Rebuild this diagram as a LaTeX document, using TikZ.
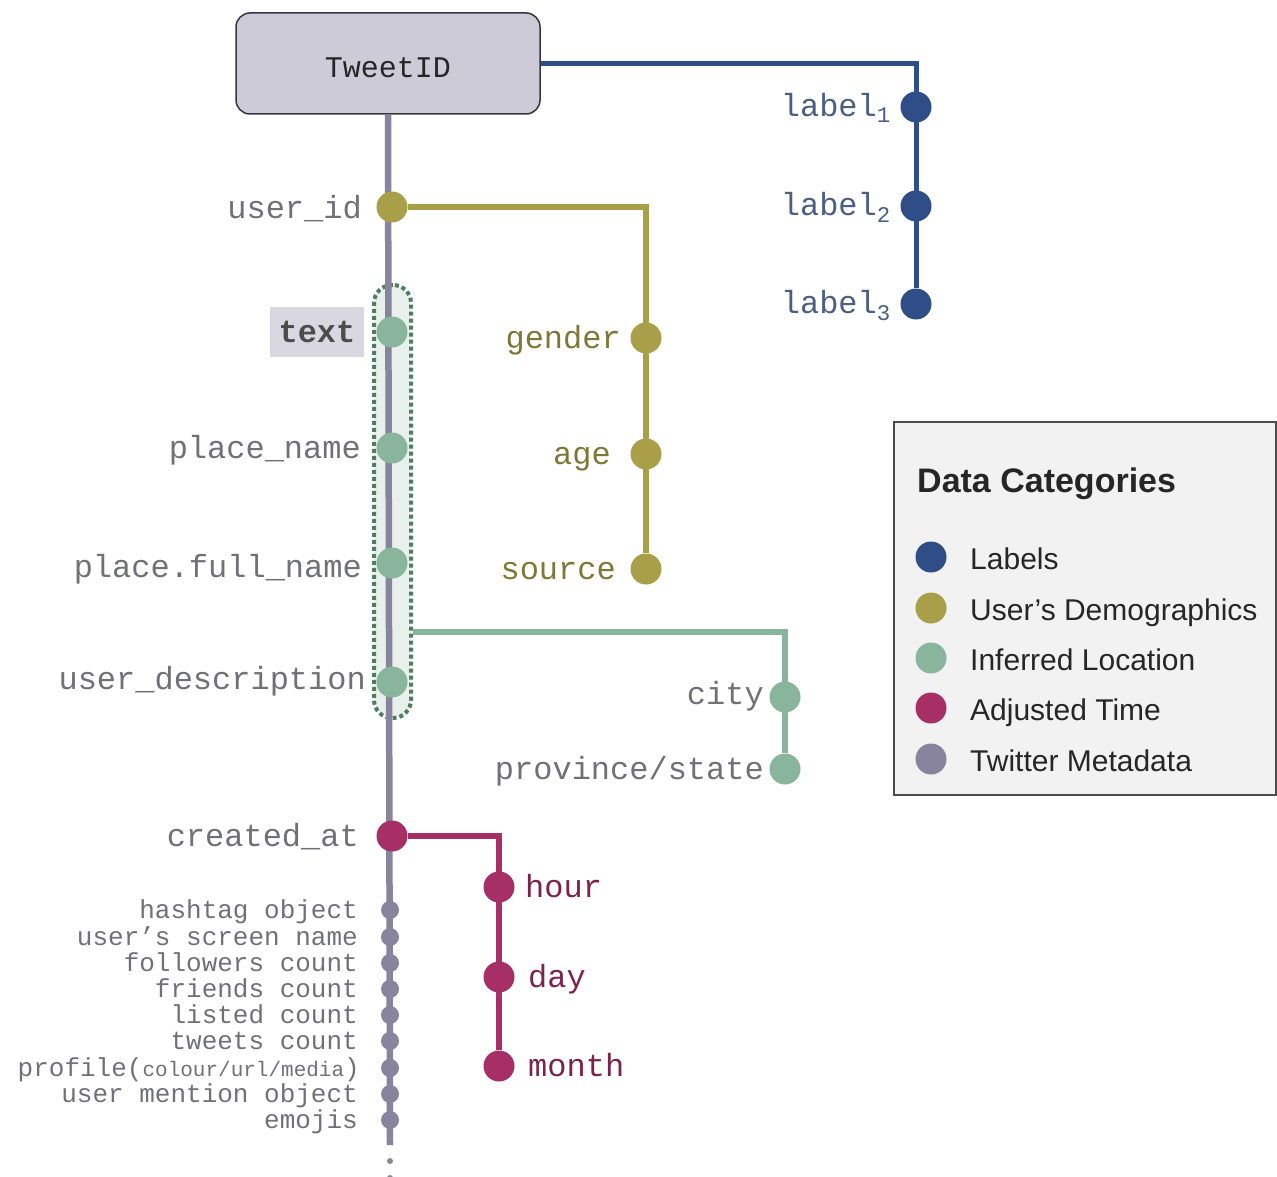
\documentclass[tikz,border=0pt]{standalone}
\usepackage{fontspec}
\setmainfont{Liberation Sans}
\newfontfamily\monofont{Liberation Mono}
\usetikzlibrary{positioning}

\definecolor{lblblue}{HTML}{2F4D87}
\definecolor{demolive}{HTML}{A89F48}
\definecolor{locgreen}{HTML}{88B59B}
\definecolor{locdark}{HTML}{4E7D60}
\definecolor{timered}{HTML}{A62F66}
\definecolor{metagray}{HTML}{88849E}
\definecolor{boxfill}{HTML}{CDCBD8}
\definecolor{fieldgray}{HTML}{707078}

\begin{document}
\begin{tikzpicture}[x=1pt, y=-1pt,
  field/.style={font=\monofont\fontsize{32}{32}\selectfont, text=fieldgray, inner sep=0pt},
  small/.style={font=\monofont\fontsize{26}{26}\selectfont, text=fieldgray, inner sep=0pt, anchor=mid east},
  dot/.style={circle, fill=#1, minimum size=31pt, inner sep=0pt},
  metadot/.style={circle, fill=metagray, minimum size=18pt, inner sep=0pt},
  branch/.style={line width=6.5pt, #1},
  keyentry/.style={font=\fontsize{30}{30}\selectfont, text=black!85, anchor=base west, inner sep=0pt}]
\useasboundingbox (0,0) rectangle (1277,1177);

% legend
\node (legend) [draw=black!70, line width=2pt, fill=black!5, minimum width=382pt,
  minimum height=373pt, inner sep=0pt] at (1085,608.5) {};
\node (keytitle) [anchor=base west, inner sep=0pt, font=\bfseries\fontsize{34}{34}\selectfont,
  text=black!85] at (917,492) {Data Categories};
\node (k1) [dot=lblblue] at (931,557) {};
\node (k2) [dot=demolive] at (931,608) {};
\node (k3) [dot=locgreen] at (931,658) {};
\node (k4) [dot=timered] at (931,708) {};
\node (k5) [dot=metagray] at (931,759) {};
\node (k1t) [keyentry] at (970,569) {Labels};
\node (k2t) [keyentry] at (970,620) {User’s Demographics};
\node (k3t) [keyentry] at (970,670) {Inferred Location};
\node (k4t) [keyentry] at (970,720) {Adjusted Time};
\node (k5t) [keyentry] at (970,771) {Twitter Metadata};

% location group
\node (locbox) [draw=locdark, fill=locgreen!20, line width=4pt, dash pattern=on 4pt off 3pt,
  rounded corners=18pt, minimum width=37pt, minimum height=433pt] at (392.5,501.5) {};
\coordinate (locjoin) at (413,632);

% the tweet
\node (tweet) [draw=black!60!metagray, line width=1.5pt, fill=boxfill, rounded corners=14pt,
  minimum width=304pt, minimum height=101pt, text height=28pt, text depth=0pt,
  font=\monofont\fontsize{30}{30}\selectfont, text=black!85] at (388,63.5) {TweetID};
\coordinate (spineend) at (390,1145);
\draw[branch=metagray] (tweet.south) -- (spineend);
\fill[metagray] (390,1161) circle (3pt);
\fill[metagray] (390,1178) circle (3pt);

% labels
\node (lab1) [dot=lblblue] at (916,107) {};
\node (lab2) [dot=lblblue] at (916,206) {};
\node (lab3) [dot=lblblue] at (916,304) {};
\draw[line width=5pt, lblblue] (tweet.east) -| (lab3);
\node (lab1t) [field, anchor=mid east, text=lblblue!65!gray] at (891,114) {label\textsubscript{1}};
\node (lab2t) [field, anchor=mid east, text=lblblue!65!gray] at (891,213) {label\textsubscript{2}};
\node (lab3t) [field, anchor=mid east, text=lblblue!65!gray] at (891,311) {label\textsubscript{3}};

% demographics
\node (uid) [dot=demolive] at (392,207) {};
\node (gender) [dot=demolive] at (646,338) {};
\node (age) [dot=demolive] at (646,454) {};
\node (source) [dot=demolive] at (646,569) {};
\draw[branch=demolive] (uid) -| (source);
\node (uidt) [field, anchor=mid east] at (362,216) {user\_id};
\node (gendert) [field, anchor=mid east, text=demolive!75!black] at (621,346) {gender};
\node (aget) [field, anchor=mid east, text=demolive!75!black] at (611,462) {age};
\node (sourcet) [field, anchor=mid east, text=demolive!75!black] at (616,577) {source};

% inferred location
\node (txt) [dot=locgreen] at (392,332) {};
\node (pname) [dot=locgreen] at (392,448) {};
\node (pfull) [dot=locgreen] at (392,563) {};
\node (udesc) [dot=locgreen] at (392,682) {};
\node (city) [dot=locgreen] at (785,697) {};
\node (prov) [dot=locgreen] at (785,769) {};
\draw[branch=locgreen] (locjoin) -| (prov);
\node (txtt) [fill=black!4!boxfill!65, minimum width=94pt, minimum height=50pt, inner sep=0pt,
  font=\monofont\bfseries\fontsize{32}{32}\selectfont, text=black!70] at (317,332) {text};
\node (pnamet) [field, anchor=mid east] at (361,456) {place\_name};
\node (pfullt) [field, anchor=mid east] at (362,575) {place.full\_name};
\node (udesct) [field, anchor=mid east] at (366,687) {user\_description};
\node (cityt) [field, anchor=mid east] at (764,702) {city};
\node (provt) [field, anchor=mid east] at (764,777) {province/state};

% adjusted time
\node (created) [dot=timered] at (392,836) {};
\node (hour) [dot=timered] at (499,887) {};
\node (day) [dot=timered] at (499,977) {};
\node (month) [dot=timered] at (499,1066) {};
\draw[branch=timered] (created) -| (month);
\node (createdt) [field, anchor=mid east] at (359,844) {created\_at};
\node (hourt) [field, anchor=mid west, text=timered!75!black] at (525,895) {hour};
\node (dayt) [field, anchor=mid west, text=timered!75!black] at (528,985) {day};
\node (montht) [field, anchor=mid west, text=timered!75!black] at (528,1074) {month};

% twitter metadata
\node (m1) [metadot] at (390,910) {};
\node (m2) [metadot] at (390,937) {};
\node (m3) [metadot] at (390,963) {};
\node (m4) [metadot] at (390,989) {};
\node (m5) [metadot] at (390,1015) {};
\node (m6) [metadot] at (390,1041) {};
\node (m7) [metadot] at (390,1068) {};
\node (m8) [metadot] at (390,1094) {};
\node (m9) [metadot] at (390,1120) {};
\node (m1t) [small] at (358,916) {hashtag object};
\node (m2t) [small] at (358,943) {user’s screen name};
\node (m3t) [small] at (358,969) {followers count};
\node (m4t) [small] at (358,995) {friends count};
\node (m5t) [small] at (358,1021) {listed count};
\node (m6t) [small] at (358,1047) {tweets count};
\node (m7t) [small] at (360,1074) {profile({\fontsize{21}{21}\selectfont colour/url/media})};
\node (m8t) [small] at (358,1100) {user mention object};
\node (m9t) [small] at (358,1126) {emojis};
\end{tikzpicture}
\end{document}
